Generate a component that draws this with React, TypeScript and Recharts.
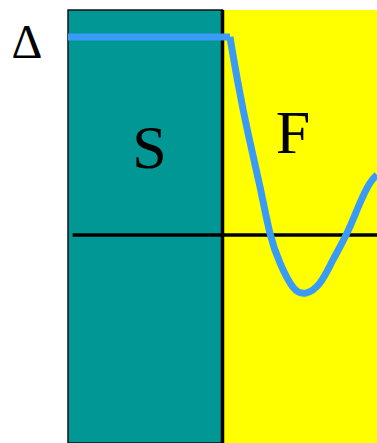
import { ComposedChart, Line, XAxis, YAxis, ReferenceArea, ReferenceLine, ReferenceDot } from 'recharts'

// x: depth across the interface (-1 = left edge of S, 0 = interface), y: Δ / Δ0
const flatX = [-1, 0.048]
const flatY = [1, 1]

const waveX = [0.048, 0.1, 0.165, 0.243, 0.307, 0.372, 0.456, 0.54, 0.631, 0.715, 0.806, 0.89, 0.955, 1.0]
const waveY = [1, 0.768, 0.515, 0.242, 0.01, -0.141, -0.263, -0.293, -0.242, -0.126, 0.01, 0.162, 0.263, 0.303]

const regions = [
  { name: 'S', from: -1, to: 0, color: '#009794' },
  { name: 'F', from: 0, to: 1, color: '#ffff00' }
]

const flatData = flatX.map((x, i) => ({ x, y: flatY[i] }))
const waveData = waveX.map((x, i) => ({ x, y: waveY[i] }))

const serif = '"Liberation Serif", "Times New Roman", serif'

const textLabel = (value: string, size: number) => (props: any) => {
  const { x, y } = props.viewBox
  return (
    <text x={x} y={y} textAnchor="middle" fontSize={size} fontFamily={serif} fill="#000">
      {value}
    </text>
  )
}

export default function App() {
  return (
    <div style={{ position: 'absolute', left: 0, top: 0, background: '#fff' }}>
      <ComposedChart width={377} height={443} margin={{ top: 10, right: 0, bottom: 0, left: 68 }}>
        <XAxis type="number" dataKey="x" domain={[-1, 1]} hide allowDataOverflow />
        <YAxis type="number" dataKey="y" domain={[-1.05, 1.136]} hide allowDataOverflow />
        {regions.map((r) => (
          <ReferenceArea
            key={r.name}
            x1={r.from}
            x2={r.to}
            y1={-1.05}
            y2={1.136}
            fill={r.color}
            fillOpacity={1}
            stroke={r.name === 'S' ? '#111' : 'none'}
            strokeWidth={1.5}
          />
        ))}
        <ReferenceLine segment={[{ x: -0.97, y: 0 }, { x: 1, y: 0 }]} stroke="#000" strokeWidth={3.5} />
        <ReferenceLine x={0} stroke="#000" strokeWidth={3.5} />
        <Line data={flatData} dataKey="y" type="linear" stroke="#3a9bf7" strokeWidth={7} dot={false} isAnimationActive={false} />
        <Line data={waveData} dataKey="y" type="natural" stroke="#3a9bf7" strokeWidth={7} dot={false} isAnimationActive={false} />
        <ReferenceDot x={-0.4725} y={0.338} r={0} ifOverflow="visible" label={textLabel('S', 62)} />
        <ReferenceDot x={0.456} y={0.414} r={0} ifOverflow="visible" label={textLabel('F', 62)} />
        <ReferenceDot x={-1.265} y={0.894} r={0} ifOverflow="visible" label={textLabel('Δ', 48)} />
      </ComposedChart>
    </div>
  )
}
